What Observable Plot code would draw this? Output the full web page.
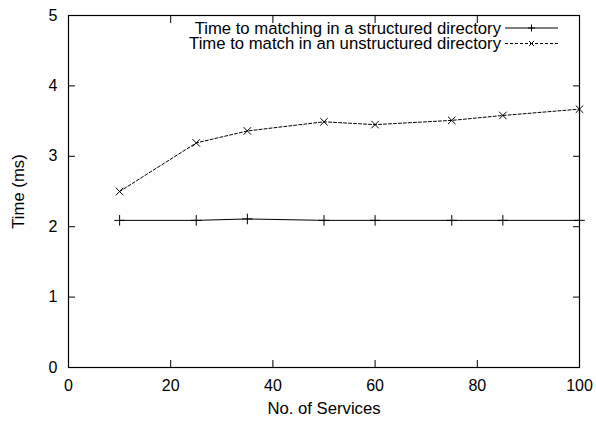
<!DOCTYPE html>
<html>
<head>
<meta charset="utf-8">
<script src="https://cdn.jsdelivr.net/npm/d3@7"></script>
<script src="https://cdn.jsdelivr.net/npm/@observablehq/plot@0.6"></script>
<style>
  html, body { margin: 0; padding: 0; background: #fff; }
  #chart { width: 596px; height: 423px; }
</style>
</head>
<body>
<div id="chart"></div>
<script>
const services = [10, 25, 35, 50, 60, 75, 85, 100];
const structured = [2.09, 2.09, 2.11, 2.09, 2.09, 2.09, 2.09, 2.09];
const unstructured = [2.50, 3.19, 3.36, 3.49, 3.45, 3.51, 3.58, 3.67];
const seriesNames = [
  "Time to matching in a structured directory",
  "Time to match in an unstructured directory"
];
const xTicks = [0, 20, 40, 60, 80, 100];
const yTicks = [0, 1, 2, 3, 4, 5];

const dataS = services.map((x, i) => ({x, y: structured[i]}));
const dataU = services.map((x, i) => ({x, y: unstructured[i]}));

const font = "Liberation Sans, Arial, Helvetica, sans-serif";
const blank = () => "";
const fmt = d => String(d);
const M = {left: 68, right: 17, top: 15, bottom: 56};

const chart = Plot.plot({
  width: 596,
  height: 423,
  marginLeft: M.left,
  marginRight: M.right,
  marginTop: M.top,
  marginBottom: M.bottom,
  style: {fontFamily: font, fontSize: "16px", color: "#000", background: "#fff"},
  x: {domain: [0, 100]},
  y: {domain: [0, 5]},
  marks: [
    Plot.frame({stroke: "#000", strokeWidth: 1.2}),
    Plot.axisX(xTicks, {anchor: "bottom", tickSize: -7, tickFormat: blank, label: null, strokeWidth: 1}),
    Plot.axisX(xTicks, {anchor: "top", tickSize: -7, tickFormat: blank, label: null, strokeWidth: 1}),
    Plot.axisY(yTicks, {anchor: "left", tickSize: -7, tickFormat: blank, label: null, strokeWidth: 1}),
    Plot.axisY(yTicks, {anchor: "right", tickSize: -7, tickFormat: blank, label: null, strokeWidth: 1}),
    Plot.axisX(xTicks, {anchor: "bottom", tickSize: 0, tickPadding: 12, tickFormat: fmt, label: null, fontSize: 16}),
    Plot.axisY(yTicks, {anchor: "left", tickSize: 0, tickPadding: 11, tickFormat: fmt, label: null, fontSize: 16}),
    Plot.axisX({anchor: "bottom", ticks: [], label: "No. of Services", labelAnchor: "center", labelOffset: 46, labelArrow: "none", fontSize: 16.7}),
    Plot.axisY({anchor: "left", ticks: [], label: "Time (ms)", labelAnchor: "center", labelOffset: 56, labelArrow: "none", fontSize: 16.7}),
    Plot.line(dataS, {x: "x", y: "y", stroke: "#000", strokeWidth: 1}),
    Plot.dot(dataS, {x: "x", y: "y", symbol: "plus", r: 3.5, stroke: "#000", strokeWidth: 1}),
    Plot.line(dataU, {x: "x", y: "y", stroke: "#000", strokeWidth: 1, strokeDasharray: "3,2"}),
    Plot.dot(dataU, {x: "x", y: "y", symbol: "times", r: 3.5, stroke: "#000", strokeWidth: 1})
  ]
});

document.getElementById("chart").appendChild(chart);

// legend inside the frame, top-right
const svg = d3.select(chart);
const rightEdge = 596 - M.right;
const g = svg.append("g").attr("font-family", font).attr("font-size", 16.7);
seriesNames.forEach((name, i) => {
  const cy = M.top + 13 + i * 15.5;
  g.append("text")
    .attr("x", rightEdge - 78)
    .attr("y", cy)
    .attr("dy", "0.35em")
    .attr("text-anchor", "end")
    .attr("fill", "#000")
    .text(name);
  g.append("line")
    .attr("x1", rightEdge - 74).attr("x2", rightEdge - 21)
    .attr("y1", cy).attr("y2", cy)
    .attr("stroke", "#000").attr("stroke-width", 1)
    .attr("stroke-dasharray", i === 0 ? null : "3,2");
  const mx = rightEdge - 47.5;
  if (i === 0) {
    g.append("path").attr("d", `M${mx-3.5},${cy}H${mx+3.5}M${mx},${cy-3.5}V${cy+3.5}`).attr("stroke", "#000").attr("fill", "none");
  } else {
    g.append("path").attr("d", `M${mx-2.5},${cy-2.5}L${mx+2.5},${cy+2.5}M${mx-2.5},${cy+2.5}L${mx+2.5},${cy-2.5}`).attr("stroke", "#000").attr("fill", "none");
  }
});
</script>
</body>
</html>
